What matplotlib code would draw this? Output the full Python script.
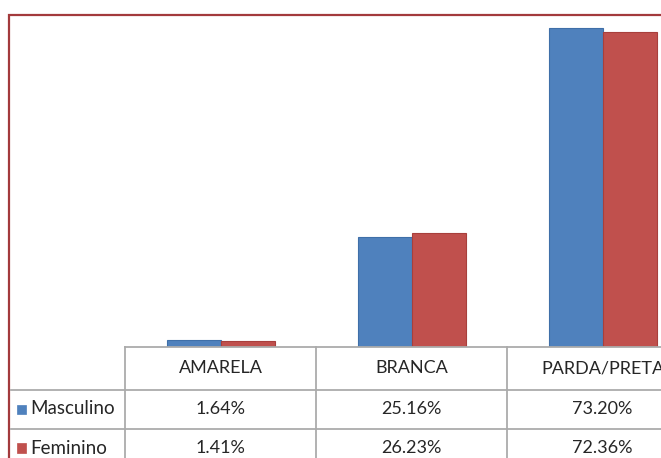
import matplotlib
matplotlib.use("Agg")
import matplotlib.pyplot as plt
from matplotlib.lines import Line2D
from matplotlib.patches import Rectangle
from matplotlib.transforms import blended_transform_factory

categories = ["AMARELA", "BRANCA", "PARDA/PRETA"]
series_names = ["Masculino", "Feminino"]
masculino = [1.64, 25.16, 73.20]
feminino = [1.41, 26.23, 72.36]
labels_masc = ["1.64%", "25.16%", "73.20%"]
labels_fem = ["1.41%", "26.23%", "72.36%"]

BLUE = "#4F81BD"
RED = "#C0504D"
GRID = "#ababab"
BORDER = "#a33a3c"
FONT = "Lato"
TXT = "#262626"

W, H = 661, 458
fig = plt.figure(figsize=(W / 100, H / 100), dpi=100)
fig.patch.set_facecolor("white")

def fx(px):
    return px / W

def fy(py):
    return 1 - py / H

col_w = 191
left_px = 125
base_px = 347
ymax = 80
px_per_unit = 4.36
ax = fig.add_axes([fx(left_px), fy(base_px), 3 * col_w / W, ymax * px_per_unit / H])
ax.set_xlim(-0.5, 2.5)
ax.set_ylim(0, ymax)
ax.axis("off")

bw = 54 / col_w
x = list(range(len(categories)))
ax.bar([i - bw / 2 for i in x], masculino, width=bw, color=BLUE, edgecolor="#3f6fa8", linewidth=0.8)
ax.bar([i + bw / 2 for i in x], feminino, width=bw, color=RED, edgecolor="#a83f3c", linewidth=0.8)

fig.add_artist(Rectangle((fx(9), fy(470)), fx(700), fy(15) - fy(470),
                         transform=fig.transFigure, fill=False,
                         edgecolor=BORDER, linewidth=1.6, clip_on=False))

def hline(y, x0, x1):
    fig.add_artist(Line2D([fx(x0), fx(x1)], [fy(y), fy(y)], transform=fig.transFigure,
                          color=GRID, linewidth=1.3))

def vline(xp, y0, y1):
    fig.add_artist(Line2D([fx(xp), fx(xp)], [fy(y0), fy(y1)], transform=fig.transFigure,
                          color=GRID, linewidth=1.3))

hline(347, left_px, W + 10)
hline(390, 11, W + 10)
hline(429, 11, W + 10)
for k in range(4):
    vline(left_px + k * col_w, 347, H + 10)

tr = blended_transform_factory(ax.transData, fig.transFigure)
row_y = [368, 409, 448]
fs = 13
for i, c in enumerate(categories):
    ax.text(i, fy(row_y[0]), c, transform=tr, ha="center", va="center",
            fontsize=fs, family=FONT, color=TXT, clip_on=False)
    ax.text(i, fy(row_y[1]), labels_masc[i], transform=tr, ha="center", va="center",
            fontsize=fs, family=FONT, color=TXT, clip_on=False)
    ax.text(i, fy(row_y[2]), labels_fem[i], transform=tr, ha="center", va="center",
            fontsize=fs, family=FONT, color=TXT, clip_on=False)

for name, col, yy in [(series_names[0], BLUE, row_y[1]), (series_names[1], RED, row_y[2])]:
    fig.add_artist(Rectangle((fx(17), fy(yy + 4.5)), fx(9), fy(yy - 4.5) - fy(yy + 4.5),
                             transform=fig.transFigure, facecolor=col, edgecolor=col, linewidth=0.5))
    fig.text(fx(30), fy(yy), name, ha="left", va="center", fontsize=13.5, family=FONT, color=TXT)

fig.savefig("out.png", dpi=100)
